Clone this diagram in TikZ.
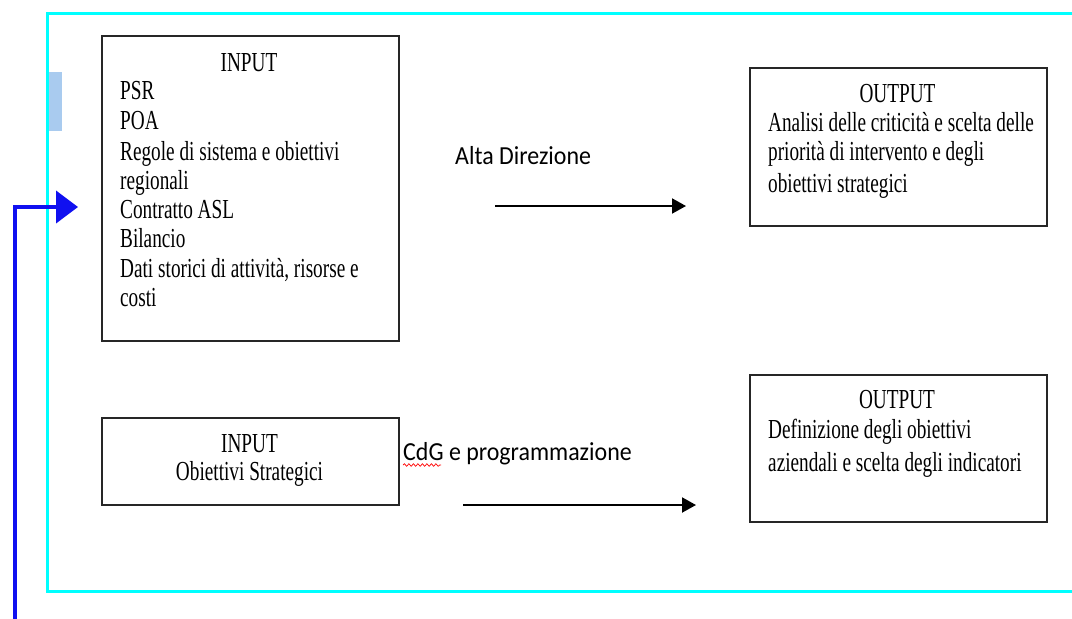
\documentclass[tikz,border=0pt]{standalone}
\usepackage{fontspec}
\usetikzlibrary{arrows.meta,decorations.pathmorphing}
\newfontfamily\boxfont{Liberation Serif}[FakeStretch=0.70]
\newfontfamily\labfont{Carlito}[FakeStretch=0.92]
\definecolor{framecyan}{HTML}{00FFFF}
\definecolor{fbblue}{HTML}{1010F0}
\definecolor{tabblue}{HTML}{A9CBEF}
\tikzset{
  stagebox/.style={draw=black!85, line width=1.6pt, anchor=north west, inner sep=0pt},
  boxtxt/.style={font=\boxfont\fontsize{27.5}{29}\selectfont, inner sep=0pt, anchor=base west},
  boxttl/.style={font=\boxfont\fontsize{27.5}{29}\selectfont, inner sep=0pt, anchor=base},
  labtxt/.style={font=\labfont\fontsize{26}{29}\selectfont, inner sep=0pt, anchor=base west},
  flow/.style={line width=2pt, -{Triangle[length=14pt,width=15pt]}},
  feedback/.style={draw=fbblue, line width=4pt, -{Triangle[length=22pt,width=32pt]}}
}
\begin{document}
\begin{tikzpicture}[x=1pt,y=-1pt]
\clip (0,0) rectangle (1072,619);
\fill[white] (0,0) rectangle (1072,619);
% outer frame
\draw[framecyan, line width=3pt] (47,13) rectangle (1090,591);
\fill[tabblue] (49,72) rectangle (62,131);
% boxes
\node[stagebox, minimum width=297pt, minimum height=305pt] (in1) at (101,35) {};
\node[stagebox, minimum width=297pt, minimum height=158pt] (out1) at (749,67) {};
\node[stagebox, minimum width=297pt, minimum height=87pt] (in2) at (101,417) {};
\node[stagebox, minimum width=297pt, minimum height=147pt] (out2) at (749,374) {};
% INPUT 1 text
\node[boxttl] (in1t) at (249,71) {INPUT};
\node[boxtxt] (in1a) at (120,99.5) {PSR};
\node[boxtxt] (in1b) at (120,129) {POA};
\node[boxtxt] (in1c) at (120,160) {Regole di sistema e obiettivi};
\node[boxtxt] (in1d) at (120,189) {regionali};
\node[boxtxt] (in1e) at (120,218) {Contratto ASL};
\node[boxtxt] (in1f) at (120,247) {Bilancio};
\node[boxtxt] (in1g) at (120,277) {Dati storici di attività, risorse e};
\node[boxtxt] (in1h) at (120,306) {costi};
% OUTPUT 1 text
\node[boxttl] (out1t) at (897.5,102) {OUTPUT};
\node[boxtxt] (out1a) at (768,131) {Analisi delle criticità e scelta delle};
\node[boxtxt] (out1b) at (768,160) {priorità di intervento e degli};
\node[boxtxt] (out1c) at (768,192) {obiettivi strategici};
% INPUT 2 text
\node[boxttl] (in2t) at (249.5,452) {INPUT};
\node[boxttl] (in2a) at (249.5,480) {Obiettivi Strategici};
% OUTPUT 2 text
\node[boxttl] (out2t) at (897,408) {OUTPUT};
\node[boxtxt] (out2a) at (768,438) {Definizione degli obiettivi};
\node[boxtxt] (out2b) at (768,471) {aziendali e scelta degli indicatori};
% labels
\node[labtxt] (lab1) at (455,164) {Alta Direzione};
\node[labtxt] (lab2) at (403,460) {CdG e programmazione};
\draw[red, line width=0.7pt, decorate, decoration={snake, amplitude=1.3pt, segment length=4.5pt}] (lab2.base west) ++(0,5) -- ++(38,0);
% flow arrows
\coordinate (a1s) at (495,206);
\coordinate (a1e) at (686,206);
\coordinate (a2s) at (463,505);
\coordinate (a2e) at (696,505);
\draw[flow] (a1s) -- (a1e);
\draw[flow] (a2s) -- (a2e);
% feedback arrow
\coordinate (fbs) at (15,640);
\coordinate (fbc) at (15,207);
\coordinate (fbe) at (78,207);
\draw[feedback] (fbs) -- (fbc) -- (fbe);
\end{tikzpicture}
\end{document}
